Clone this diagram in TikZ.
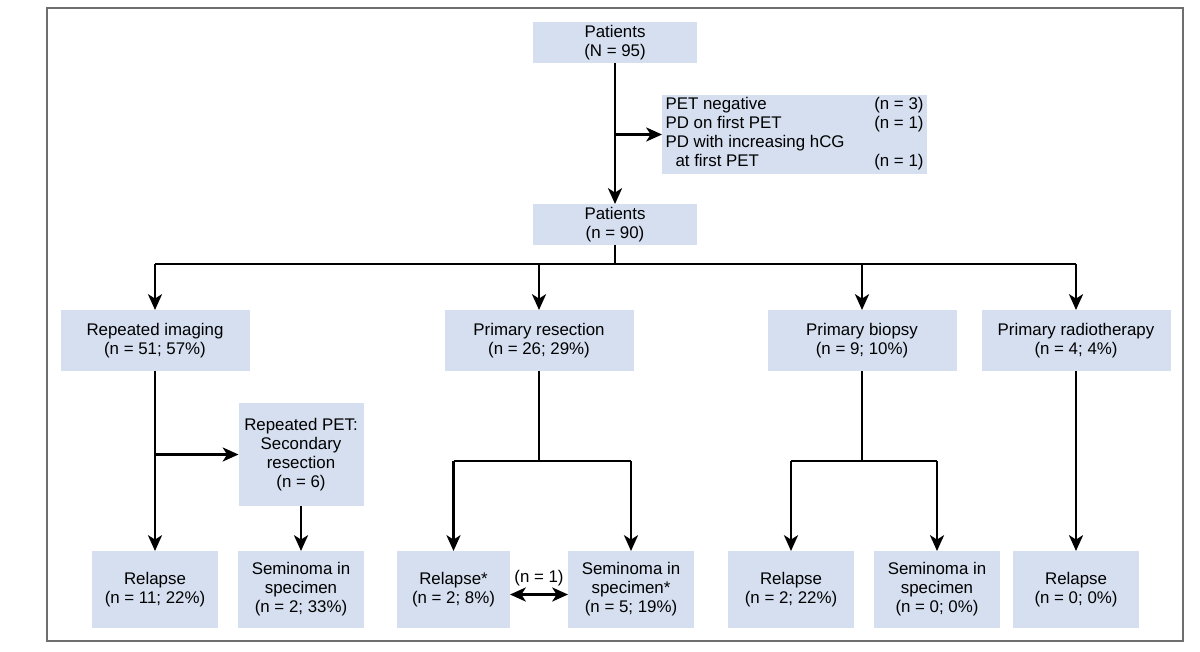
\documentclass[tikz,border=0pt]{standalone}
\usepackage{fontspec}
\setmainfont{Liberation Sans}
\usepackage{xcolor}
\usepackage{tikz}
\usetikzlibrary{arrows.meta,positioning,calc}

\definecolor{boxblue}{RGB}{213,223,240}
\definecolor{framegray}{RGB}{110,110,110}

\begin{document}
\begin{tikzpicture}[
  font=\fontsize{9.6}{10.8}\selectfont,
  box/.style={fill=boxblue, align=center, inner sep=1pt, outer sep=0pt},
  top/.style={box, minimum width=3.28cm, minimum height=0.82cm},
  branch/.style={box, minimum width=3.78cm, minimum height=1.22cm},
  leaf/.style={box, minimum width=2.52cm, minimum height=1.54cm},
  line/.style={line width=1.4pt},
  arrow/.style={-{Stealth[length=9pt, width=8pt, inset=2.5pt]}, line width=1.4pt}
]
\useasboundingbox (0,0) rectangle (24,-13.02);
\draw[framegray, line width=1.2pt] (0.94,-0.16) rectangle (23.66,-12.82);

% top part
\node[top] (p95) at (12.3,-0.85) {Patients\\(N = 95)};
\node[top, below=2.82cm of p95] (p90) {Patients\\(n = 90)};
\node[box, anchor=west, inner xsep=2pt, minimum height=1.54cm] (excl) at (13.24,-2.69) {%
  \begin{tabular*}{5.16cm}{@{}l@{\extracolsep{\fill}}r@{}}
  PET negative & (n = 3)\\
  PD on first PET & (n = 1)\\
  PD with increasing hCG & \\
  \hspace*{2mm}at first PET & (n = 1)
  \end{tabular*}};

% treatment groups
\node[branch] (imaging) at (3.1,-6.81) {Repeated imaging\\(n = 51; 57\%)};
\node[branch, right=3.9cm of imaging] (resection) {Primary resection\\(n = 26; 29\%)};
\node[branch, right=2.68cm of resection] (biopsy) {Primary biopsy\\(n = 9; 10\%)};
\node[branch, right=0.5cm of biopsy] (radio) {Primary radiotherapy\\(n = 4; 4\%)};

% outcomes
\node[leaf, below=3.6cm of imaging] (relA) {Relapse\\(n = 11; 22\%)};
\node[leaf, right=0.4cm of relA] (semA) {Seminoma in\\specimen\\(n = 2; 33\%)};
\node[box, minimum width=2.5cm, minimum height=2.06cm, above=0.9cm of semA] (petsec) {Repeated PET:\\Secondary\\resection\\(n = 6)};
\node[leaf, minimum width=2.26cm, right=0.66cm of semA] (relB) {Relapse*\\(n = 2; 8\%)};
\node[leaf, right=1.16cm of relB] (semB) {Seminoma in\\specimen*\\(n = 5; 19\%)};
\node[leaf, right=0.68cm of semB] (relC) {Relapse\\(n = 2; 22\%)};
\node[leaf, right=0.4cm of relC] (semC) {Seminoma in\\specimen\\(n = 0; 0\%)};
\node[leaf, below=3.6cm of radio] (relD) {Relapse\\(n = 0; 0\%)};

% connectors
\draw[arrow] (p95) -- (p90);
\draw[arrow] (p95 |- excl) -- (excl);
\draw[line] (p90.south) -- ++(0,-0.38) coordinate (hub);
\draw[line] (imaging.north |- hub) -- (radio.north |- hub);
\foreach \grp in {imaging,resection,biopsy,radio}
  \draw[arrow] (\grp.north |- hub) -- (\grp);

\draw[arrow] (imaging) -- (relA);
\draw[arrow] (imaging |- petsec) -- (petsec);
\draw[arrow] (petsec) -- (semA);

\draw[line] (resection.south) -- ++(0,-1.8) coordinate (rsplit);
\draw[line] (relB.north |- rsplit) -- (semB.north |- rsplit);
\draw[arrow] (relB.north |- rsplit) -- (relB);
\draw[arrow] (semB.north |- rsplit) -- (semB);

\draw[line] (biopsy.south) -- ++(0,-1.8) coordinate (bsplit);
\draw[line] (relC.north |- bsplit) -- (semC.north |- bsplit);
\draw[arrow] (relC.north |- bsplit) -- (relC);
\draw[arrow] (semC.north |- bsplit) -- (semC);

\draw[arrow] (radio) -- (relD);

\draw[arrow, {Stealth[length=9pt, width=8pt, inset=2.5pt]}-{Stealth[length=9pt, width=8pt, inset=2.5pt]}]
  ([yshift=-0.1cm]relB.east) -- node[above=1pt] {(n = 1)} ([yshift=-0.1cm]semB.west);
\end{tikzpicture}
\end{document}
